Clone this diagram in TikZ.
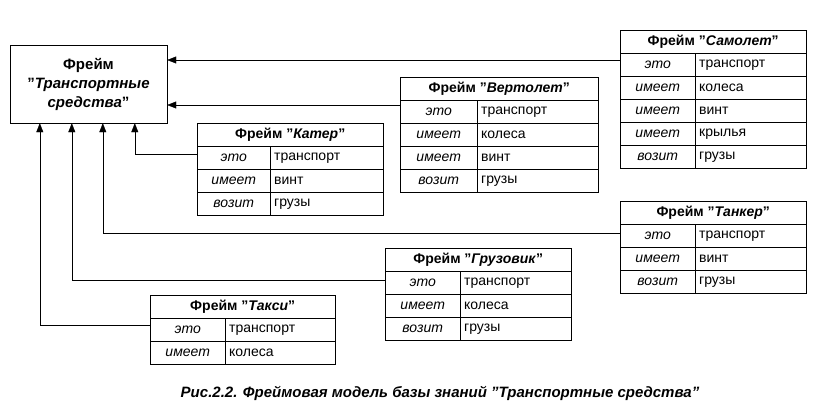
\documentclass[tikz,border=0pt]{standalone}
\usepackage{fontspec}
\setmainfont{Liberation Sans}
\usetikzlibrary{arrows.meta,calc}
\newcommand\qq{\symbol{34}}
\tikzset{
  cell/.style={draw, minimum height=23pt, inner sep=0pt, anchor=north west, font=\fontsize{14}{16}\selectfont},
  arr/.style={-{Triangle[length=9pt,width=7pt]}}
}
% frame table: id, x, y, divider x, right x, title, key/value rows
\newcommand\frm[7]{%
  \pgfmathsetmacro\wall{#5-#2}\pgfmathsetmacro\wkey{#4-#2}\pgfmathsetmacro\wval{#5-#4}
  \node[cell, minimum width=\wall pt] (#1) at (#2,#3) {\textbf{Фрейм \qq\textit{#6}\qq}};
  \foreach \k/\v [count=\i] in {#7}{
    \node[cell, minimum width=\wkey pt] (#1-k\i) at (#2,#3+23*\i) {\textit{\k}};
    \node[cell, minimum width=\wval pt, align=left, text width=\wval pt-8pt, inner xsep=4pt] (#1-v\i) at (#4,#3+23*\i) {\v};
  }
}
\begin{document}
\begin{tikzpicture}[x=1pt,y=-1pt]
\useasboundingbox (0,0) rectangle (838,416);
% main frame
\node[draw, minimum width=157pt, minimum height=78pt, align=center, inner sep=0pt,
  font=\fontsize{15}{19}\selectfont\bfseries] (main) at (88.5,84)
  {Фрейм\\\qq\textit{Транспортные}\\\textit{средства}\qq};
% frames
\frm{sam}{620}{30}{695}{806}{Самолет}{это/транспорт,имеет/колеса,имеет/винт,имеет/крылья,возит/грузы}
\frm{ver}{400}{77}{477}{598}{Вертолет}{это/транспорт,имеет/колеса,имеет/винт,возит/грузы}
\frm{kat}{197}{123}{270}{383}{Катер}{это/транспорт,имеет/винт,возит/грузы}
\frm{tan}{620}{201}{695}{806}{Танкер}{это/транспорт,имеет/винт,возит/грузы}
\frm{gru}{385}{248}{460}{571}{Грузовик}{это/транспорт,имеет/колеса,возит/грузы}
\frm{tak}{150}{295}{225}{335}{Такси}{это/транспорт,имеет/колеса}
% link ends
\coordinate (samL) at ([yshift=-7pt]sam-k1.north west);
\coordinate (verL) at ([yshift=-5pt]ver-k1.north west);
\coordinate (katL) at ([yshift=-8pt]kat-k1.north west);
\coordinate (tanL) at ([yshift=-9pt]tan-k1.north west);
\coordinate (gruL) at ([yshift=-9pt]gru-k1.north west);
\coordinate (takL) at ([yshift=-7pt]tak-k1.north west);
% links
\draw[arr] (samL) -- (main.east |- samL);
\draw[arr] (verL) -- (main.east |- verL);
\draw[arr] (katL) -| ($(main.south west)+(125,0)$);
\draw[arr] (tanL) -| ($(main.south west)+(93,0)$);
\draw[arr] (gruL) -| ($(main.south west)+(62,0)$);
\draw[arr] (takL) -| ($(main.south west)+(30,0)$);
% caption
\node[font=\fontsize{15}{18}\selectfont\bfseries\itshape] (cap) at (440,393)
  {Рис.2.2. Фреймовая модель базы знаний \qq Транспортные средства\qq};
\end{tikzpicture}
\end{document}
